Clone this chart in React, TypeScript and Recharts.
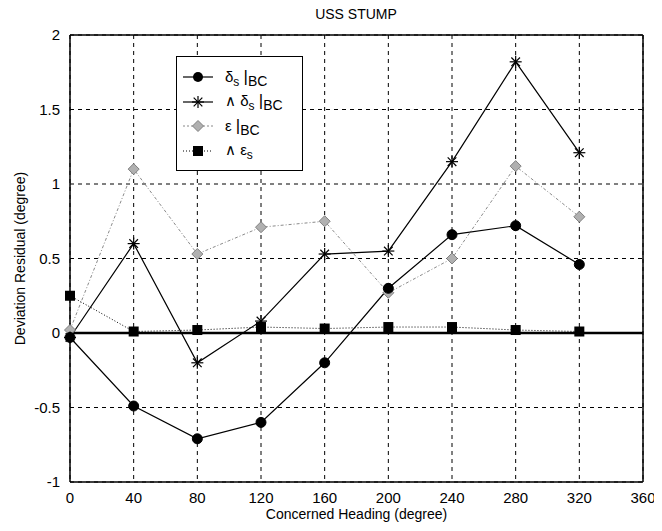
import React from "react";
import {
  LineChart,
  Line,
  XAxis,
  YAxis,
  CartesianGrid,
  ReferenceLine,
} from "recharts";

const headings = [0, 40, 80, 120, 160, 200, 240, 280, 320];
const deltaS = [-0.03, -0.49, -0.71, -0.6, -0.2, 0.3, 0.66, 0.72, 0.46];
const hatDeltaS = [-0.03, 0.6, -0.2, 0.08, 0.53, 0.55, 1.15, 1.82, 1.21];
const epsBC = [0.02, 1.1, 0.53, 0.71, 0.75, 0.27, 0.5, 1.12, 0.78];
const hatEpsS = [0.25, 0.01, 0.02, 0.04, 0.03, 0.04, 0.04, 0.02, 0.01];
const xTicks = [0, 40, 80, 120, 160, 200, 240, 280, 320, 360];
const yTicks = [-1, -0.5, 0, 0.5, 1, 1.5, 2];

const data = headings.map((h, i) => ({
  h,
  a: deltaS[i],
  b: hatDeltaS[i],
  c: epsBC[i],
  d: hatEpsS[i],
}));

const FONT = "'Liberation Sans', Arial, sans-serif";

const Circle = (p: any) => (
  <circle key={p.key ?? p.index} cx={p.cx} cy={p.cy} r={5} fill="#000" stroke="#000" />
);
const Star = (p: any) => {
  const s = 6;
  const d = s * 0.72;
  return (
    <g key={p.key ?? p.index} stroke="#000" strokeWidth={1.2}>
      <line x1={p.cx - s} y1={p.cy} x2={p.cx + s} y2={p.cy} />
      <line x1={p.cx} y1={p.cy - s} x2={p.cx} y2={p.cy + s} />
      <line x1={p.cx - d} y1={p.cy - d} x2={p.cx + d} y2={p.cy + d} />
      <line x1={p.cx - d} y1={p.cy + d} x2={p.cx + d} y2={p.cy - d} />
    </g>
  );
};
const Diamond = (p: any) => {
  const s = 5.5;
  return (
    <polygon
      key={p.key ?? p.index}
      points={`${p.cx},${p.cy - s} ${p.cx + s},${p.cy} ${p.cx},${p.cy + s} ${p.cx - s},${p.cy}`}
      fill="#b0b0b0"
      stroke="#808080"
      strokeWidth={1}
    />
  );
};
const Square = (p: any) => (
  <rect key={p.key ?? p.index} x={p.cx - 5} y={p.cy - 5} width={10} height={10} fill="#000" />
);

const legendRows = [
  { kind: "a", main: "δ", sub: "s", bc: true, pre: "" },
  { kind: "b", main: "δ", sub: "s", bc: true, pre: "∧ " },
  { kind: "c", main: "ε", sub: "", bc: true, pre: "" },
  { kind: "d", main: "ε", sub: "s", bc: false, pre: "∧ " },
];

const LegendSample = ({ kind }: { kind: string }) => {
  const cx = 15;
  const cy = 8;
  let line: any = null;
  let marker: any = null;
  if (kind === "a") {
    line = <line x1={0} y1={cy} x2={30} y2={cy} stroke="#000" strokeWidth={1.2} />;
    marker = <circle cx={cx} cy={cy} r={5} fill="#000" />;
  } else if (kind === "b") {
    line = <line x1={0} y1={cy} x2={30} y2={cy} stroke="#000" strokeWidth={1.2} />;
    marker = <Star cx={cx} cy={cy} index={0} />;
  } else if (kind === "c") {
    line = <line x1={0} y1={cy} x2={30} y2={cy} stroke="#888" strokeWidth={1} strokeDasharray="2 2" />;
    marker = <Diamond cx={cx} cy={cy} index={0} />;
  } else {
    line = <line x1={0} y1={cy} x2={30} y2={cy} stroke="#000" strokeWidth={1} strokeDasharray="1 2" />;
    marker = <Square cx={cx} cy={cy} index={0} />;
  }
  return (
    <svg width={30} height={16} style={{ display: "block" }}>
      {line}
      {marker}
    </svg>
  );
};

const LegendBox = () => (
  <div
    style={{
      position: "absolute",
      left: 168,
      top: 48,
      width: 127,
      height: 115,
      border: "1px solid #000",
      background: "#fff",
      fontFamily: FONT,
      fontSize: 15,
      boxSizing: "border-box",
      padding: "8px 0 0 6px",
      zIndex: 3,
    }}
  >
    {legendRows.map((r) => (
      <div
        key={r.kind}
        style={{ display: "flex", alignItems: "center", height: 24.5 }}
      >
        <LegendSample kind={r.kind} />
        <span style={{ marginLeft: 12, whiteSpace: "nowrap", lineHeight: "14px" }}>
          {r.pre}
          {r.main}
          {r.sub ? (
            <span style={{ fontSize: 12, position: "relative", top: 4 }}>{r.sub}</span>
          ) : null}
          {r.bc ? (
            <>
              {" "}
              <span style={{ fontSize: 17 }}>|</span>
              <span style={{ fontSize: 14, position: "relative", top: 4 }}>BC</span>
            </>
          ) : null}
        </span>
      </div>
    ))}
  </div>
);

export default function App() {
  return (
    <div style={{ position: "relative", width: 654, height: 515 }}>
      <div
        style={{
          position: "absolute",
          left: 348 - 100,
          width: 200,
          top: -2,
          textAlign: "center",
          fontFamily: FONT,
          fontSize: 14,
          zIndex: 2,
        }}
      >
        USS STUMP
      </div>
      <LegendBox />
      <LineChart
        width={654}
        height={515}
        data={data}
        margin={{ top: 27, right: 19, bottom: 0, left: 0 }}
        style={{ fontFamily: FONT }}
      >
        <CartesianGrid stroke="#000" strokeDasharray="4 4" strokeWidth={1} />
        <XAxis
          dataKey="h"
          type="number"
          domain={[0, 360]}
          ticks={xTicks}
          interval={0}
          height={41}
          tickLine={false}
          axisLine={{ stroke: "#000", strokeWidth: 1.5 }}
          tick={{ fill: "#000", fontSize: 15 }}
          tickMargin={4}
          label={{
            value: "Concerned Heading (degree)",
            position: "insideBottom",
            offset: 4,
            fill: "#000",
            fontSize: 14,
          }}
        />
        <YAxis
          type="number"
          domain={[-1, 2]}
          ticks={yTicks}
          interval={0}
          width={62}
          tickLine={false}
          axisLine={{ stroke: "#000", strokeWidth: 1.5 }}
          tick={{ fill: "#000", fontSize: 15 }}
          tickMargin={4}
          label={{
            value: "Deviation Residual (degree)",
            angle: -90,
            position: "insideLeft",
            offset: 12,
            fill: "#000",
            fontSize: 14,
            style: { textAnchor: "middle" },
          }}
        />
        <ReferenceLine y={2} stroke="#000" strokeWidth={1.5} />
        <ReferenceLine x={360} stroke="#000" strokeWidth={1.5} />
        <ReferenceLine y={0} stroke="#000" strokeWidth={2.5} />
        <Line
          dataKey="c"
          stroke="#8a8a8a"
          strokeWidth={1}
          strokeDasharray="3 2 1 2"
          dot={Diamond}
          activeDot={false}
          isAnimationActive={false}
        />
        <Line
          dataKey="d"
          stroke="#000"
          strokeWidth={1}
          strokeDasharray="1 2"
          dot={Square}
          activeDot={false}
          isAnimationActive={false}
        />
        <Line
          dataKey="a"
          stroke="#000"
          strokeWidth={1.2}
          dot={Circle}
          activeDot={false}
          isAnimationActive={false}
        />
        <Line
          dataKey="b"
          stroke="#000"
          strokeWidth={1.2}
          dot={Star}
          activeDot={false}
          isAnimationActive={false}
        />
      </LineChart>
    </div>
  );
}
